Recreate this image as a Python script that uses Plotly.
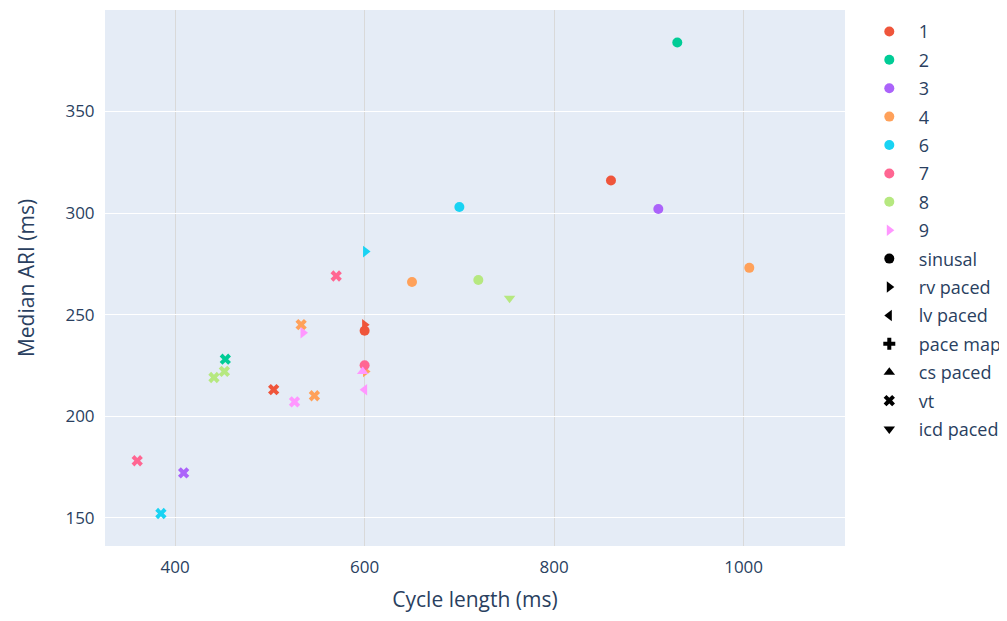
import plotly.graph_objects as go

patients = ["1", "2", "3", "4", "6", "7", "8", "9"]
colors = ["#EF553B", "#00CC96", "#AB63FA", "#FFA15A", "#19D3F3", "#FF6692", "#B6E880", "#FF97FF"]
rhythms = ["sinusal", "rv paced", "lv paced", "pace map", "cs paced", "vt", "icd paced"]
symbols = ["circle", "triangle-right", "triangle-left", "cross", "triangle-up", "x", "triangle-down"]

# (patient, rhythm, cycle length, median ARI)
pt_patient = ["1", "1", "1", "1",
              "2", "2",
              "3", "3",
              "4", "4", "4", "4", "4",
              "6", "6", "6",
              "7", "7", "7",
              "8", "8", "8", "8",
              "9", "9", "9", "9"]
pt_rhythm = ["sinusal", "sinusal", "rv paced", "vt",
             "sinusal", "vt",
             "sinusal", "vt",
             "sinusal", "sinusal", "vt", "vt", "rv paced",
             "sinusal", "rv paced", "vt",
             "sinusal", "vt", "vt",
             "sinusal", "icd paced", "vt", "vt",
             "rv paced", "vt", "cs paced", "lv paced"]
pt_cl = [860, 600, 600, 504,
         930, 453,
         910, 409,
         1006, 650, 533, 547, 601,
         700, 601, 385,
         600, 570, 360,
         720, 753, 452, 441,
         535, 526, 598, 600]
pt_ari = [316, 242, 245, 213,
          384, 228,
          302, 172,
          273, 266, 245, 210, 222,
          303, 281, 152,
          225, 269, 178,
          267, 258, 222, 219,
          241, 207, 222, 213]

legend_patient_symbol = {"9": "triangle-right"}

fig = go.Figure()
sym_map = dict(zip(rhythms, symbols))
col_map = dict(zip(patients, colors))

# data points
for p in patients:
    for r in rhythms:
        xs = [x for pp, rr, x in zip(pt_patient, pt_rhythm, pt_cl) if pp == p and rr == r]
        ys = [y for pp, rr, y in zip(pt_patient, pt_rhythm, pt_ari) if pp == p and rr == r]
        if xs:
            fig.add_trace(go.Scatter(x=xs, y=ys, mode="markers", showlegend=False,
                                     marker=dict(color=col_map[p], symbol=sym_map[r], size=10)))

# legend entries: patients
for p in patients:
    fig.add_trace(go.Scatter(x=[None], y=[None], mode="markers", name=p, legendgroup="p" + p,
                             marker=dict(color=col_map[p], size=10,
                                         symbol=legend_patient_symbol.get(p, "circle"))))
# legend entries: rhythms
for r in rhythms:
    fig.add_trace(go.Scatter(x=[None], y=[None], mode="markers", name=r, legendgroup="r" + r,
                             marker=dict(color="black", size=10, symbol=sym_map[r])))

fig.update_layout(
    width=991, height=605,
    template="plotly",
    font=dict(family="Open Sans, sans-serif", size=17, color="#2a3f5f"),
    margin=dict(l=97, r=154, t=2, b=67, autoexpand=False),
    xaxis=dict(title=dict(text="Cycle length (ms)", font=dict(size=21), standoff=32),
               range=[326, 1107], dtick=200,
               gridcolor="#d9d9d9", tickfont=dict(size=17),
               ticks="outside", ticklen=6, tickcolor="rgba(0,0,0,0)"),
    yaxis=dict(title=dict(text="Median ARI (ms)", font=dict(size=21), standoff=25),
               range=[136, 400], dtick=50,
               tickfont=dict(size=17),
               ticks="outside", ticklen=6, tickcolor="rgba(0,0,0,0)"),
    legend=dict(font=dict(size=18), itemwidth=49, tracegroupgap=2, y=0.994, yanchor="top"),
)

fig.write_html("out.html")
